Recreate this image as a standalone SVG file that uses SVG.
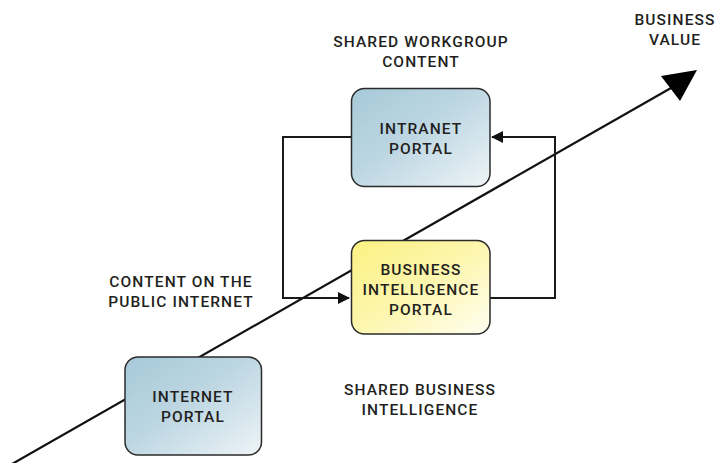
<svg xmlns="http://www.w3.org/2000/svg" width="719" height="463" viewBox="0 0 719 463">
<style>
text{font-family:Roboto,"Liberation Sans",sans-serif;font-weight:500;font-size:15.5px;fill:#231f20;text-anchor:middle;letter-spacing:1.1px}
.box{stroke:#2b2b2b;stroke-width:1.5}
.conn{fill:none;stroke:#1a1a1a;stroke-width:2}
</style>
<defs>
<linearGradient id="gb" x1="0" y1="0" x2="1" y2="1">
<stop offset="0" stop-color="#a6c9d8"/>
<stop offset="0.45" stop-color="#bcd6e2"/>
<stop offset="1" stop-color="#eef4f7"/>
</linearGradient>
<linearGradient id="gy" x1="0" y1="0" x2="1" y2="1">
<stop offset="0" stop-color="#fcf182"/>
<stop offset="0.5" stop-color="#fdf6ae"/>
<stop offset="1" stop-color="#fffef2"/>
</linearGradient>
<marker id="ah" markerWidth="12" markerHeight="12" refX="11" refY="6" orient="auto" markerUnits="userSpaceOnUse">
<path d="M0,0 L12,6 L0,12 Z" fill="#111"/>
</marker>
</defs>
<g id="value-axis">
<line x1="12" y1="464" x2="671" y2="88" stroke="#111" stroke-width="2.2"/>
<polygon points="697,70 661,76 680,101" fill="#000"/>
</g>
<g id="connectors">
<path class="conn" d="M351,137 H283 V298 H349" marker-end="url(#ah)"/>
<path class="conn" d="M490,298 H555 V137 H492" marker-end="url(#ah)"/>
</g>
<g id="intranet-portal">
<rect class="box" x="351.5" y="88.5" width="138.5" height="98" rx="13" fill="url(#gb)"/>
<text x="421" y="133.5">INTRANET</text>
<text x="421" y="153.5">PORTAL</text>
</g>
<g id="bi-portal">
<rect class="box" x="351.5" y="240.5" width="138.5" height="93.5" rx="13" fill="url(#gy)"/>
<text x="421" y="274.5">BUSINESS</text>
<text x="421" y="295">INTELLIGENCE</text>
<text x="421" y="315">PORTAL</text>
</g>
<g id="internet-portal">
<rect class="box" x="125" y="357" width="136.5" height="98" rx="13" fill="url(#gb)"/>
<text x="193" y="402">INTERNET</text>
<text x="193" y="422">PORTAL</text>
</g>
<g id="labels">
<text x="421" y="46.5">SHARED WORKGROUP</text>
<text x="421" y="66.5">CONTENT</text>
<text x="675" y="25">BUSINESS</text>
<text x="675" y="45">VALUE</text>
<text x="181" y="286.5">CONTENT ON THE</text>
<text x="181" y="306.5">PUBLIC INTERNET</text>
<text x="420" y="395">SHARED BUSINESS</text>
<text x="420" y="415">INTELLIGENCE</text>
</g>
</svg>
